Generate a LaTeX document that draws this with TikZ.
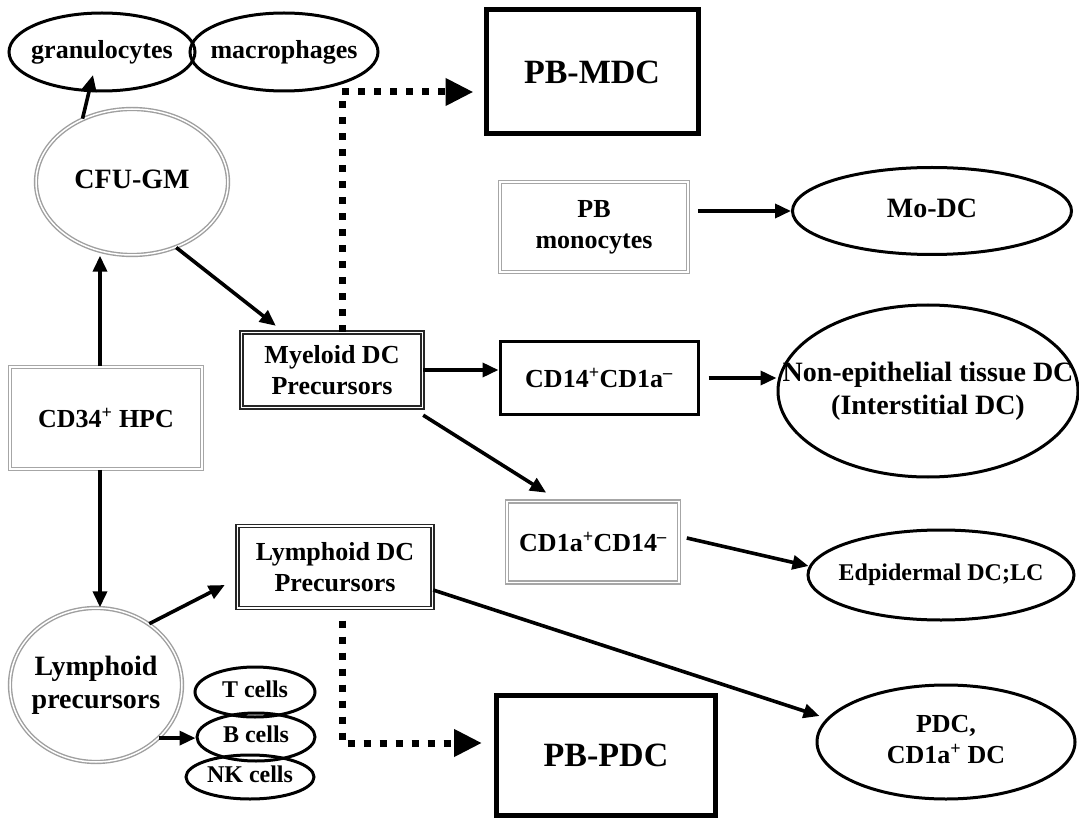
\documentclass[tikz,border=0pt]{standalone}
\usepackage{fontspec}
\setmainfont{Liberation Serif}
\usetikzlibrary{shapes.geometric,arrows.meta,calc}
\newcommand\zw[1]{\makebox[0pt]{\begin{tabular}{@{}c@{}}#1\end{tabular}}}
\begin{document}
\begin{tikzpicture}[x=1pt,y=-1pt,
  every node/.style={inner sep=0pt, align=center},
  fa/.style={font=\bfseries\fontsize{24}{29}\selectfont},
  fb/.style={font=\bfseries\fontsize{26}{31}\selectfont},
  fc/.style={font=\bfseries\fontsize{28}{33}\selectfont},
  fd/.style={font=\bfseries\fontsize{34}{40}\selectfont},
  ell/.style={ellipse, draw=black, line width=3pt},
  gell/.style={ellipse, draw=gray!75, double=white, double distance=1.5pt, line width=1.4pt},
  box/.style={rectangle, draw=black, line width=3pt},
  bigbox/.style={rectangle, draw=black, line width=5pt},
  dbox/.style={rectangle, draw=black!85, double=white, double distance=1.6pt, line width=1.4pt},
  gbox/.style={rectangle, draw=gray!70, double=white, double distance=1.6pt, line width=1.6pt},
  arr/.style={line width=3.6pt, -{Triangle[length=16pt,width=14pt]}},
  dots/.style={line width=7pt, dash pattern=on 7pt off 9pt, -{Triangle[length=28pt,width=26pt]}},
]
\fill[white] (0,0) rectangle (1079,818);
\useasboundingbox (0,0) rectangle (1079,818);

% top ellipses
\node[ell, fb, minimum width=186pt, minimum height=78pt] (gran) at (102,52) {\zw{granulocytes}};
\node[ell, fb, minimum width=188pt, minimum height=78pt] (macro) at (284,52) {\zw{macrophages}};
\node[bigbox, fd, minimum width=212pt, minimum height=124pt] (pbmdc) at (592,72) {PB-MDC};

\node[gell, fc, minimum width=192pt, minimum height=146pt] (cfu) at (132,182) {\zw{CFU-GM}};
\node[gbox, fb, minimum width=188pt, minimum height=90pt] (pbmono) at (594,227) {PB\\monocytes};
\node[ell, fc, minimum width=279pt, minimum height=87pt] (modc) at (932,211) {\zw{Mo-DC}};

\node[dbox, fb, minimum width=181pt, minimum height=75pt] (myeloid) at (332,370) {Myeloid DC\\Precursors};
\node[box, fb, minimum width=198pt, minimum height=73pt] (cd14) at (599,378) {CD14\textsuperscript{+}CD1a\textsuperscript{–}};
\node[ell, fc, minimum width=300pt, minimum height=172pt] (nonepi) at (928,391) {\zw{Non-epithelial tissue DC\\(Interstitial DC)}};

\node[gbox, fb, minimum width=192pt, minimum height=102pt] (cd34) at (106,418) {CD34\textsuperscript{+} HPC};

\node[gbox, fb, minimum width=172pt, minimum height=81pt] (cd1a) at (593,542) {CD1a\textsuperscript{+}CD14\textsuperscript{–}};
\node[ell, fa, minimum width=266pt, minimum height=90pt] (edp) at (941,575) {\zw{Edpidermal DC;LC}};

\node[dbox, fb, minimum width=195pt, minimum height=82pt] (lymphdc) at (335,567) {Lymphoid DC\\Precursors};

\node[gell, fc, minimum width=172pt, minimum height=154pt] (lymph) at (96,685) {\zw{Lymphoid\\precursors}};
\node[ell, fa, minimum width=120pt, minimum height=50pt] (tcell) at (255,692) {\zw{T cells}};
\node[ell, fa, minimum width=118pt, minimum height=48pt] (bcell) at (256,737) {\zw{B cells}};
\node[ell, fa, minimum width=128pt, minimum height=44pt] (nkcell) at (250,777) {\zw{NK cells}};

\node[bigbox, fd, minimum width=219pt, minimum height=120pt] (pbpdc) at (606,755) {PB-PDC};
\node[ell, fb, minimum width=258pt, minimum height=114pt] (pdc) at (946,742) {\zw{PDC,\\CD1a\textsuperscript{+} DC}};

% solid arrows
\draw[arr] (cfu.128) -- ([shift={(-9,23)}]gran.center);
\draw[arr] (cfu.-56) -- ([shift={(35,-6)}]myeloid.north west);
\draw[arr] ([xshift=-6pt]cd34.north) -- ([xshift=-6pt]cd34.north |- cfu.south);
\draw[arr] ([xshift=-6pt]cd34.south) -- ([xshift=-6pt]cd34.south |- lymph.north);
\draw[arr] (lymph.49) -- ([shift={(-12,18)}]lymphdc.west);
\draw[arr] (lymph.-40) -- (lymph.-40 -| bcell.west);
\draw[arr] ([xshift=9pt]modc.west -| pbmono.east) -- (modc.west);
\draw[arr] (myeloid.east) -- (myeloid.east -| cd14.west);
\draw[arr] ([xshift=9pt]cd14.east) -- (cd14.east -| nonepi.west);
\draw[arr] ([shift={(0,7)}]myeloid.south east) -- ([shift={(40,-8)}]cd1a.north west);
\draw[arr] ([shift={(7,-4)}]cd1a.east) -- ([shift={(2,-9)}]edp.west);
\draw[arr] ([shift={(0,23)}]lymphdc.east) -- ([shift={(4,-26)}]pdc.west);

% dotted arrows
\draw[dots] ([xshift=10pt]myeloid.north) |- ([shift={(-10,20)}]pbmdc.west);
\draw[dots] ([shift={(7,12)}]lymphdc.south) |- ([shift={(-12,-12)}]pbpdc.west);
\end{tikzpicture}
\end{document}
